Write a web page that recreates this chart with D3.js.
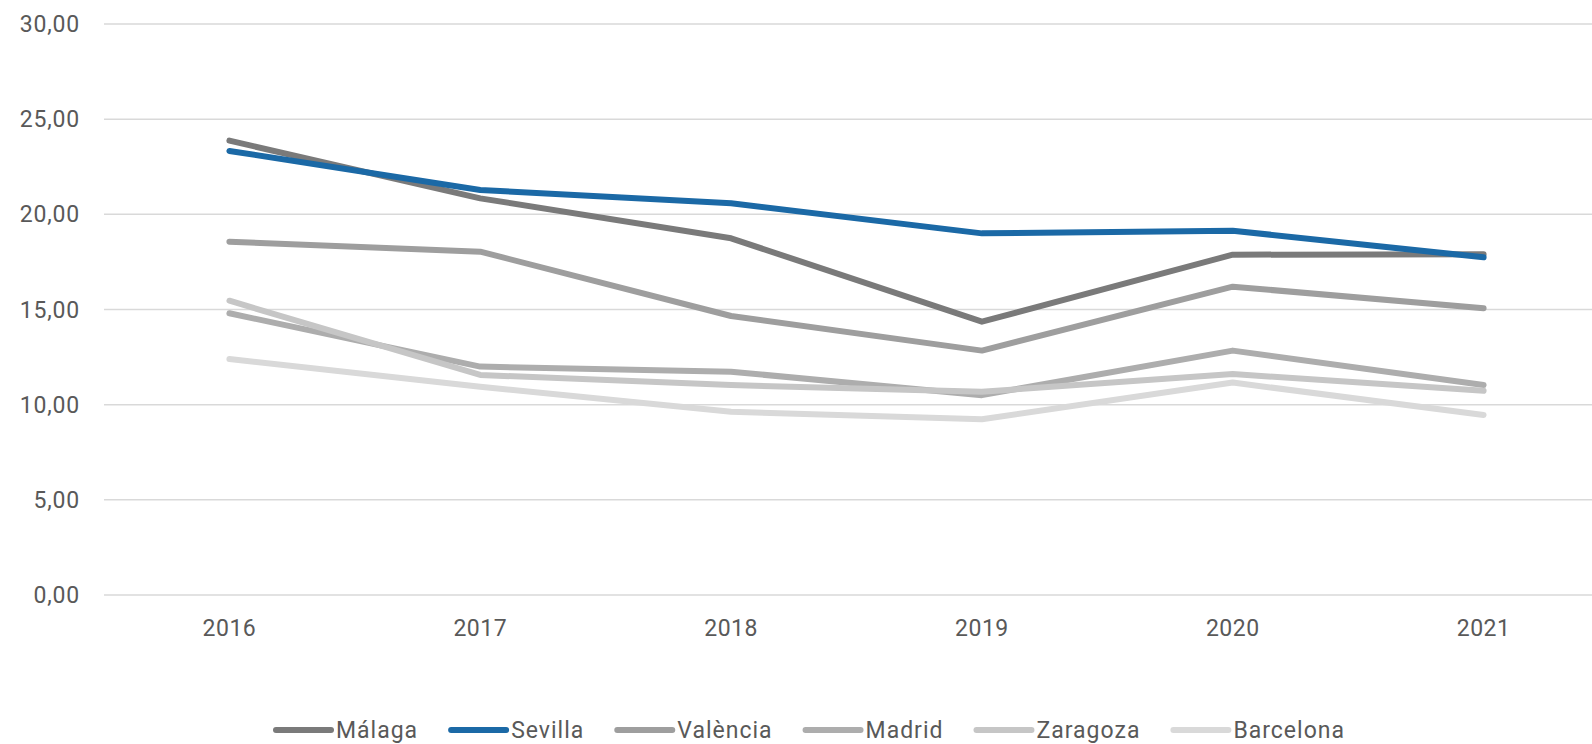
<!DOCTYPE html>
<html>
<head>
<meta charset="utf-8">
<script src="https://cdn.jsdelivr.net/npm/d3@7"></script>
<style>
  body { margin: 0; background: #fff; }
  svg { display: block; font-family: Roboto, "Noto Sans", sans-serif; }
</style>
</head>
<body>
<svg id="chart" width="1592" height="744"></svg>
<script>
// data
var years = ['2016', '2017', '2018', '2019', '2020', '2021'];
var cities = ['Málaga', 'Sevilla', 'València', 'Madrid', 'Zaragoza', 'Barcelona'];
var malaga    = [23.87, 20.84, 18.74, 14.36, 17.88, 17.90];
var sevilla   = [23.33, 21.28, 20.58, 19.00, 19.14, 17.74];
var valencia  = [18.56, 18.04, 14.66, 12.84, 16.20, 15.06];
var madrid    = [14.80, 12.00, 11.73, 10.50, 12.84, 11.03];
var zaragoza  = [15.46, 11.56, 11.03, 10.68, 11.61, 10.73];
var barcelona = [12.40, 10.94,  9.63,  9.23, 11.16,  9.46];
var yTicks = [0, 5, 10, 15, 20, 25, 30];
var colors = ['#7a7a7a', '#1b69a6', '#9e9e9e', '#adadad', '#c6c6c6', '#d9d9d9'];

var series = [malaga, sevilla, valencia, madrid, zaragoza, barcelona];

var svg = d3.select('#chart');

var plotLeft = 104, plotRight = 1609, plotTop = 24, plotBottom = 595;

var xScale = d3.scaleBand().domain(years).range([plotLeft, plotRight]).padding(0);
var yScale = d3.scaleLinear().domain([0, 30]).range([plotBottom, plotTop]);

// gridlines
svg.append('g')
    .selectAll('line')
    .data(yTicks)
    .join('line')
    .attr('x1', plotLeft)
    .attr('x2', plotRight)
    .attr('y1', d => yScale(d))
    .attr('y2', d => yScale(d))
    .attr('stroke', '#d9d9d9')
    .attr('stroke-width', 1.5);

// y labels
var fmt = d => d3.format('.2f')(d).replace('.', ',');
svg.append('g')
    .selectAll('text')
    .data(yTicks)
    .join('text')
    .attr('x', 80)
    .attr('y', d => yScale(d))
    .attr('dy', '0.35em')
    .attr('text-anchor', 'end')
    .attr('fill', '#595959')
    .style('font-size', '23px')
    .style('letter-spacing', '0.8px')
    .text(fmt);

// x labels
svg.append('g')
    .selectAll('text')
    .data(years)
    .join('text')
    .attr('x', d => xScale(d) + xScale.bandwidth() / 2)
    .attr('y', 628)
    .attr('dy', '0.35em')
    .attr('text-anchor', 'middle')
    .attr('fill', '#595959')
    .style('font-size', '23px')
    .style('letter-spacing', '0.5px')
    .text(d => d);

// lines
var line = d3.line()
    .x((d, i) => xScale(years[i]) + xScale.bandwidth() / 2)
    .y(d => yScale(d));

svg.append('g')
    .selectAll('path')
    .data(series)
    .join('path')
    .attr('d', line)
    .attr('fill', 'none')
    .attr('stroke', (d, i) => colors[i])
    .attr('stroke-width', 6)
    .attr('stroke-linecap', 'round')
    .attr('stroke-linejoin', 'round');

// legend
var legend = svg.append('g');
var items = legend.selectAll('g')
    .data(cities)
    .join('g');

items.append('line')
    .attr('x1', 0).attr('x2', 55)
    .attr('y1', 0).attr('y2', 0)
    .attr('stroke', (d, i) => colors[i])
    .attr('stroke-width', 6)
    .attr('stroke-linecap', 'round');

items.append('text')
    .attr('x', 60)
    .attr('dy', '0.35em')
    .attr('fill', '#595959')
    .style('font-size', '23px')
    .style('letter-spacing', '1px')
    .text(d => d);

// lay the items out in one row
var gap = 33, pos = 0, offsets = [];
items.each(function () {
    offsets.push(pos);
    pos += this.getBBox().width + gap;
});
var startX = 276;
items.attr('transform', (d, i) => `translate(${startX + offsets[i]},730)`);
</script>
</body>
</html>
